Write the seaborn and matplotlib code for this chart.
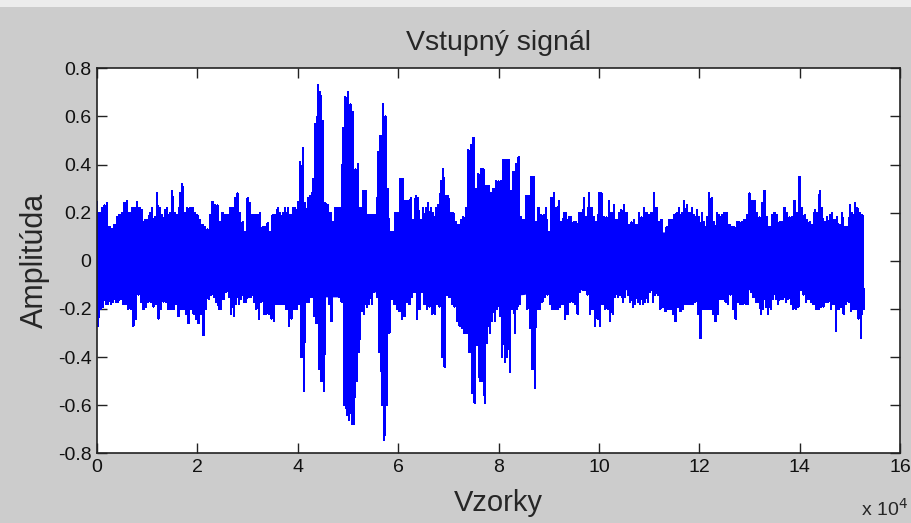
import matplotlib
matplotlib.use('Agg')
import numpy as np
import pandas as pd
import seaborn as sns
import matplotlib.pyplot as plt
from matplotlib.patches import Rectangle

# špičky signálu odčítané z obrázku, krok 1000 vzoriek (0 .. 152000)
upper = [
    0.245, 0.22, 0.24, 0.13, 0.18, 0.2, 0.25, 0.22, 0.245, 0.21,
    0.17, 0.22, 0.28, 0.19, 0.22, 0.29, 0.19, 0.32, 0.22, 0.22,
    0.19, 0.15, 0.13, 0.245, 0.23, 0.2, 0.19, 0.22, 0.28, 0.16,
    0.26, 0.19, 0.19, 0.14, 0.155, 0.19, 0.22, 0.2, 0.22, 0.22,
    0.245, 0.47, 0.26, 0.34, 0.73, 0.58, 0.23, 0.16, 0.22, 0.55,
    0.70, 0.62, 0.4, 0.29, 0.19, 0.19, 0.45, 0.65, 0.3, 0.12,
    0.2, 0.34, 0.25, 0.17, 0.26, 0.22, 0.24, 0.2, 0.23, 0.38,
    0.27, 0.2, 0.15, 0.18, 0.46, 0.51, 0.36, 0.38, 0.31, 0.3,
    0.33, 0.42, 0.42, 0.37, 0.43, 0.17, 0.27, 0.35, 0.22, 0.19,
    0.12, 0.28, 0.25, 0.2, 0.18, 0.16, 0.2, 0.26, 0.28, 0.18,
    0.28, 0.18, 0.25, 0.23, 0.2, 0.23, 0.15, 0.17, 0.2, 0.22,
    0.19, 0.28, 0.16, 0.11, 0.17, 0.19, 0.22, 0.25, 0.2, 0.19,
    0.18, 0.16, 0.28, 0.16, 0.19, 0.2, 0.15, 0.14, 0.16, 0.17,
    0.28, 0.25, 0.18, 0.29, 0.14, 0.2, 0.16, 0.22, 0.18, 0.25,
    0.35, 0.19, 0.16, 0.21, 0.29, 0.16, 0.19, 0.17, 0.15, 0.14,
    0.23, 0.24, 0.2,
]
lower = [
    -0.27, -0.19, -0.18, -0.17, -0.17, -0.18, -0.2, -0.27, -0.14, -0.2,
    -0.17, -0.19, -0.24, -0.17, -0.2, -0.2, -0.23, -0.2, -0.26, -0.22,
    -0.26, -0.31, -0.16, -0.15, -0.2, -0.16, -0.15, -0.23, -0.18, -0.17,
    -0.15, -0.17, -0.24, -0.22, -0.22, -0.25, -0.18, -0.18, -0.27, -0.2,
    -0.18, -0.54, -0.17, -0.23, -0.45, -0.54, -0.18, -0.14, -0.15, -0.60,
    -0.66, -0.68, -0.38, -0.22, -0.18, -0.13, -0.38, -0.745, -0.3, -0.18,
    -0.21, -0.23, -0.18, -0.13, -0.2, -0.18, -0.19, -0.22, -0.19, -0.44,
    -0.15, -0.19, -0.27, -0.30, -0.38, -0.59, -0.5, -0.59, -0.3, -0.25,
    -0.23, -0.42, -0.46, -0.3, -0.18, -0.13, -0.28, -0.53, -0.2, -0.15,
    -0.18, -0.2, -0.19, -0.24, -0.17, -0.18, -0.13, -0.12, -0.22, -0.27,
    -0.27, -0.2, -0.25, -0.15, -0.14, -0.15, -0.17, -0.18, -0.18, -0.17,
    -0.13, -0.14, -0.2, -0.21, -0.2, -0.25, -0.21, -0.18, -0.18, -0.17,
    -0.32, -0.2, -0.2, -0.25, -0.16, -0.17, -0.14, -0.24, -0.18, -0.18,
    -0.13, -0.17, -0.22, -0.19, -0.2, -0.16, -0.16, -0.17, -0.18, -0.2,
    -0.12, -0.17, -0.17, -0.2, -0.19, -0.17, -0.2, -0.29, -0.19, -0.18,
    -0.21, -0.2, -0.32,
]
# špičky v polovici každého kroku (500 .. 152500)
upper_half = [
    0.2, 0.23, 0.14, 0.15, 0.19, 0.24, 0.2, 0.22, 0.22, 0.17,
    0.2, 0.18, 0.22, 0.21, 0.2, 0.2, 0.28, 0.2, 0.22, 0.2,
    0.17, 0.14, 0.19, 0.23, 0.16, 0.19, 0.22, 0.26, 0.2, 0.12,
    0.24, 0.19, 0.2, 0.14, 0.12, 0.19, 0.2, 0.22, 0.19, 0.22,
    0.41, 0.24, 0.27, 0.57, 0.70, 0.24, 0.2, 0.22, 0.22, 0.68,
    0.65, 0.38, 0.22, 0.29, 0.19, 0.19, 0.52, 0.6, 0.12, 0.2,
    0.34, 0.25, 0.26, 0.27, 0.17, 0.22, 0.22, 0.22, 0.33, 0.27,
    0.2, 0.16, 0.17, 0.22, 0.48, 0.3, 0.38, 0.31, 0.28, 0.33,
    0.33, 0.42, 0.29, 0.4, 0.18, 0.27, 0.35, 0.16, 0.19, 0.22,
    0.26, 0.22, 0.16, 0.2, 0.18, 0.16, 0.2, 0.18, 0.22, 0.16,
    0.28, 0.18, 0.2, 0.17, 0.21, 0.2, 0.16, 0.15, 0.18, 0.2,
    0.2, 0.22, 0.17, 0.14, 0.17, 0.2, 0.2, 0.23, 0.22, 0.21,
    0.2, 0.18, 0.26, 0.2, 0.19, 0.2, 0.14, 0.16, 0.16, 0.19,
    0.25, 0.2, 0.24, 0.18, 0.19, 0.19, 0.16, 0.2, 0.18, 0.2,
    0.22, 0.17, 0.15, 0.2, 0.22, 0.18, 0.2, 0.18, 0.2, 0.14,
    0.2, 0.22, 0.19,
]
lower_half = [
    -0.2, -0.18, -0.18, -0.17, -0.16, -0.18, -0.2, -0.24, -0.17, -0.19,
    -0.17, -0.18, -0.2, -0.17, -0.2, -0.18, -0.2, -0.22, -0.2, -0.24,
    -0.22, -0.2, -0.14, -0.17, -0.2, -0.13, -0.22, -0.18, -0.16, -0.17,
    -0.15, -0.2, -0.17, -0.22, -0.24, -0.18, -0.18, -0.2, -0.24, -0.2,
    -0.4, -0.17, -0.15, -0.26, -0.5, -0.14, -0.25, -0.13, -0.17, -0.64,
    -0.68, -0.5, -0.21, -0.19, -0.18, -0.15, -0.6, -0.6, -0.16, -0.2,
    -0.24, -0.17, -0.15, -0.24, -0.13, -0.2, -0.22, -0.18, -0.4, -0.14,
    -0.18, -0.25, -0.28, -0.3, -0.55, -0.35, -0.5, -0.34, -0.25, -0.2,
    -0.4, -0.4, -0.2, -0.2, -0.13, -0.2, -0.45, -0.2, -0.17, -0.14,
    -0.2, -0.2, -0.18, -0.22, -0.17, -0.22, -0.12, -0.14, -0.2, -0.24,
    -0.18, -0.2, -0.22, -0.15, -0.17, -0.14, -0.19, -0.17, -0.18, -0.17,
    -0.17, -0.14, -0.19, -0.2, -0.22, -0.19, -0.2, -0.18, -0.18, -0.22,
    -0.2, -0.2, -0.22, -0.22, -0.16, -0.18, -0.2, -0.17, -0.18, -0.18,
    -0.15, -0.17, -0.2, -0.22, -0.16, -0.18, -0.16, -0.16, -0.2, -0.19,
    -0.14, -0.16, -0.18, -0.2, -0.19, -0.17, -0.18, -0.2, -0.22, -0.17,
    -0.2, -0.24, -0.2,
]
# hustá stredná časť signálu (polovičná šírka), krok 5000 vzoriek
core_pos = [0, 5000, 10000, 15000, 20000, 25000, 30000, 35000, 40000, 45000,
            50000, 55000, 60000, 65000, 70000, 75000, 80000, 85000, 90000,
            95000, 100000, 105000, 110000, 115000, 120000, 125000, 130000,
            135000, 140000, 145000, 150000, 152500]
core = [0.12, 0.12, 0.12, 0.13, 0.12, 0.12, 0.11, 0.12, 0.13, 0.15,
        0.15, 0.13, 0.12, 0.13, 0.13, 0.15, 0.15, 0.14, 0.12, 0.12,
        0.12, 0.12, 0.12, 0.12, 0.12, 0.12, 0.12, 0.12, 0.12, 0.12,
        0.12, 0.12]

xticks = [0, 2, 4, 6, 8, 10, 12, 14, 16]
yticks = [-0.8, -0.6, -0.4, -0.2, 0, 0.2, 0.4, 0.6, 0.8]

sns.set_style('ticks')
plt.rcParams['font.family'] = ['Liberation Sans', 'DejaVu Sans']
plt.rcParams['axes.unicode_minus'] = False

# striedanie horných a dolných špičiek -> vzhľad hustého priebehu
pos = np.arange(len(upper)) * 1000
xs = np.column_stack([pos, pos + 250, pos + 500, pos + 750]).ravel()
ys = np.column_stack([upper, lower, upper_half, lower_half]).ravel()
df = pd.DataFrame({'Vzorky': xs, 'Amplitúda': ys})

blue = '#0000ff'
fig = plt.figure(figsize=(9.12, 5.23), dpi=100, facecolor='#cccccc')
fig.patches.append(Rectangle((0, 1 - 7 / 523), 1, 7 / 523, transform=fig.transFigure,
                             facecolor='#ececec', edgecolor='none', zorder=0))
ax = fig.add_axes([97 / 912, 1 - 453.3 / 523, 803 / 912, 385 / 523])
ax.set_facecolor('white')

ax.fill_between(core_pos, [-c for c in core], core, color=blue, lw=0)
sns.lineplot(data=df, x='Vzorky', y='Amplitúda', sort=False, estimator=None,
             color=blue, linewidth=0.95, antialiased=False, ax=ax)

ax.set_xlim(0, 160000)
ax.set_ylim(-0.8, 0.8)
ax.set_xticks([t * 1e4 for t in xticks])
ax.set_xticklabels([str(t) for t in xticks])
ax.set_yticks(yticks)
ax.set_yticklabels(['0' if t == 0 else f'{t:g}' for t in yticks])
ax.tick_params(direction='in', length=7, width=1, colors='#222222',
               labelcolor='#111111', labelsize=14, top=True, right=True,
               pad=4)
for s in ax.spines.values():
    s.set_visible(True)
    s.set_color('#222222')
    s.set_linewidth(1.2)

ax.set_title('Vstupný signál', fontsize=20.5, pad=13)
ax.set_xlabel('Vzorky', fontsize=21)
ax.set_ylabel('Amplitúda', fontsize=22)
ax.xaxis.set_label_coords(0.5, -0.092)
ax.yaxis.set_label_coords(-0.058, 0.5)
fig.text(861 / 912, 1 - 516 / 523, r'x 10$^4$', fontsize=14, ha='left', va='baseline')

fig.savefig('out.png', dpi=100, facecolor=fig.get_facecolor())
